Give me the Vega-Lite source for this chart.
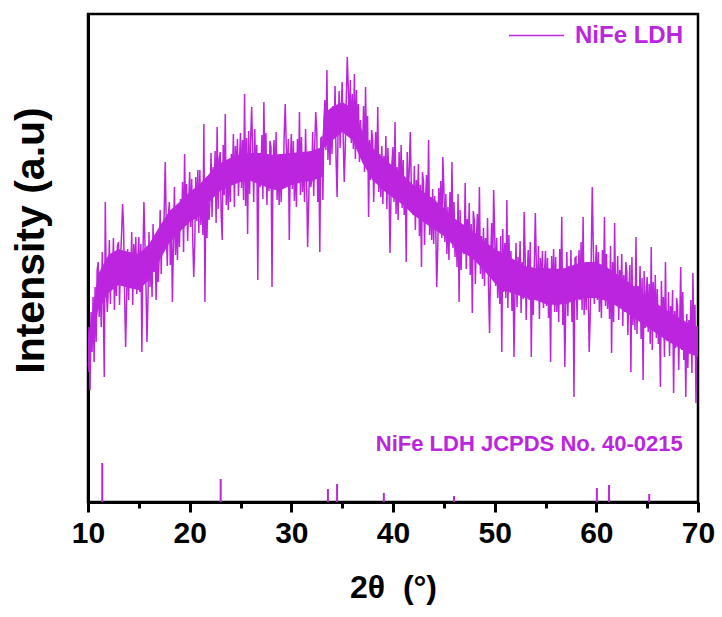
{
"$schema": "https://vega.github.io/schema/vega-lite/v6.json",
"width": 610,
"height": 488,
"autosize": {"type": "none"},
"padding": {"left": 88, "top": 14, "right": 24, "bottom": 115},
"background": "white",
"config": {"view": {"stroke": "black", "strokeWidth": 2.5}, "font": "Liberation Sans"},
"datasets": {
"xrd": [
{"x":10.0,"y":130},{"x":10.1,"y":175},{"x":10.2,"y":112},{"x":10.3,"y":190},{"x":10.4,"y":150},{"x":10.5,"y":205},{"x":10.6,"y":140},{"x":10.7,"y":215},{"x":10.8,"y":160},{"x":10.9,"y":232},
{"x":11.0,"y":240},{"x":11.1,"y":185},{"x":11.2,"y":222},{"x":11.3,"y":175},{"x":11.4,"y":250},{"x":11.5,"y":198},{"x":11.6,"y":125},{"x":11.7,"y":300},{"x":11.8,"y":215},{"x":11.9,"y":190},
{"x":12.0,"y":213},{"x":12.1,"y":262},{"x":12.2,"y":198},{"x":12.3,"y":248},{"x":12.4,"y":220},{"x":12.5,"y":264},{"x":12.6,"y":192},{"x":12.7,"y":243},{"x":12.8,"y":206},{"x":12.9,"y":256},
{"x":13.0,"y":260},{"x":13.1,"y":197},{"x":13.2,"y":243},{"x":13.3,"y":267},{"x":13.4,"y":298},{"x":13.5,"y":275},{"x":13.6,"y":207},{"x":13.7,"y":155},{"x":13.8,"y":202},{"x":13.9,"y":253},
{"x":14.0,"y":202},{"x":14.1,"y":250},{"x":14.2,"y":220},{"x":14.3,"y":270},{"x":14.4,"y":197},{"x":14.5,"y":258},{"x":14.6,"y":227},{"x":14.7,"y":265},{"x":14.8,"y":208},{"x":14.9,"y":244},
{"x":15.0,"y":265},{"x":15.1,"y":210},{"x":15.2,"y":258},{"x":15.3,"y":150},{"x":15.4,"y":245},{"x":15.5,"y":300},{"x":15.6,"y":260},{"x":15.7,"y":216},{"x":15.8,"y":160},{"x":15.9,"y":204},
{"x":16.0,"y":270},{"x":16.1,"y":215},{"x":16.2,"y":252},{"x":16.3,"y":205},{"x":16.4,"y":278},{"x":16.5,"y":230},{"x":16.6,"y":262},{"x":16.7,"y":202},{"x":16.8,"y":245},{"x":16.9,"y":220},
{"x":17.0,"y":243},{"x":17.1,"y":292},{"x":17.2,"y":228},{"x":17.3,"y":278},{"x":17.4,"y":250},{"x":17.5,"y":294},{"x":17.6,"y":340},{"x":17.7,"y":273},{"x":17.8,"y":236},{"x":17.9,"y":286},
{"x":18.0,"y":300},{"x":18.1,"y":237},{"x":18.2,"y":283},{"x":18.3,"y":200},{"x":18.4,"y":257},{"x":18.5,"y":315},{"x":18.6,"y":247},{"x":18.7,"y":285},{"x":18.8,"y":242},{"x":18.9,"y":293},
{"x":19.0,"y":255},{"x":19.1,"y":303},{"x":19.2,"y":273},{"x":19.3,"y":320},{"x":19.4,"y":250},{"x":19.5,"y":348},{"x":19.6,"y":280},{"x":19.7,"y":318},{"x":19.8,"y":261},{"x":19.9,"y":297},
{"x":20.0,"y":330},{"x":20.1,"y":275},{"x":20.2,"y":323},{"x":20.3,"y":263},{"x":20.4,"y":225},{"x":20.5,"y":257},{"x":20.6,"y":325},{"x":20.7,"y":281},{"x":20.8,"y":332},{"x":20.9,"y":269},
{"x":21.0,"y":332},{"x":21.1,"y":277},{"x":21.2,"y":314},{"x":21.3,"y":267},{"x":21.4,"y":378},{"x":21.5,"y":200},{"x":21.6,"y":324},{"x":21.7,"y":264},{"x":21.8,"y":307},{"x":21.9,"y":282},
{"x":22.0,"y":300},{"x":22.1,"y":349},{"x":22.2,"y":285},{"x":22.3,"y":335},{"x":22.4,"y":307},{"x":22.5,"y":351},{"x":22.6,"y":279},{"x":22.7,"y":375},{"x":22.8,"y":293},{"x":22.9,"y":343},
{"x":23.0,"y":350},{"x":23.1,"y":287},{"x":23.2,"y":262},{"x":23.3,"y":357},{"x":23.4,"y":307},{"x":23.5,"y":388},{"x":23.6,"y":297},{"x":23.7,"y":335},{"x":23.8,"y":292},{"x":23.9,"y":343},
{"x":24.0,"y":300},{"x":24.1,"y":348},{"x":24.2,"y":318},{"x":24.3,"y":368},{"x":24.4,"y":295},{"x":24.5,"y":356},{"x":24.6,"y":325},{"x":24.7,"y":363},{"x":24.8,"y":306},{"x":24.9,"y":342},
{"x":25.0,"y":369},{"x":25.1,"y":314},{"x":25.2,"y":362},{"x":25.3,"y":302},{"x":25.4,"y":408},{"x":25.5,"y":296},{"x":25.6,"y":364},{"x":25.7,"y":268},{"x":25.8,"y":371},{"x":25.9,"y":308},
{"x":26.0,"y":365},{"x":26.1,"y":395},{"x":26.2,"y":347},{"x":26.3,"y":300},{"x":26.4,"y":373},{"x":26.5,"y":325},{"x":26.6,"y":357},{"x":26.7,"y":222},{"x":26.8,"y":340},{"x":26.9,"y":315},
{"x":27.0,"y":318},{"x":27.1,"y":367},{"x":27.2,"y":303},{"x":27.3,"y":400},{"x":27.4,"y":325},{"x":27.5,"y":369},{"x":27.6,"y":297},{"x":27.7,"y":348},{"x":27.8,"y":311},{"x":27.9,"y":361},
{"x":28.0,"y":355},{"x":28.1,"y":215},{"x":28.2,"y":338},{"x":28.3,"y":362},{"x":28.4,"y":312},{"x":28.5,"y":370},{"x":28.6,"y":302},{"x":28.7,"y":340},{"x":28.8,"y":297},{"x":28.9,"y":348},
{"x":29.0,"y":300},{"x":29.1,"y":348},{"x":29.2,"y":318},{"x":29.3,"y":368},{"x":29.4,"y":398},{"x":29.5,"y":356},{"x":29.6,"y":325},{"x":29.7,"y":363},{"x":29.8,"y":262},{"x":29.9,"y":342},
{"x":30.0,"y":368},{"x":30.1,"y":313},{"x":30.2,"y":361},{"x":30.3,"y":301},{"x":30.4,"y":348},{"x":30.5,"y":295},{"x":30.6,"y":363},{"x":30.7,"y":319},{"x":30.8,"y":390},{"x":30.9,"y":307},
{"x":31.0,"y":365},{"x":31.1,"y":310},{"x":31.2,"y":347},{"x":31.3,"y":300},{"x":31.4,"y":373},{"x":31.5,"y":325},{"x":31.6,"y":255},{"x":31.7,"y":297},{"x":31.8,"y":340},{"x":31.9,"y":315},
{"x":32.0,"y":321},{"x":32.1,"y":370},{"x":32.2,"y":306},{"x":32.3,"y":356},{"x":32.4,"y":390},{"x":32.5,"y":372},{"x":32.6,"y":300},{"x":32.7,"y":351},{"x":32.8,"y":250},{"x":32.9,"y":364},
{"x":33.0,"y":365},{"x":33.1,"y":302},{"x":33.2,"y":378},{"x":33.3,"y":402},{"x":33.4,"y":352},{"x":33.5,"y":432},{"x":33.6,"y":342},{"x":33.7,"y":380},{"x":33.8,"y":337},{"x":33.9,"y":390},
{"x":34.0,"y":348},{"x":34.1,"y":396},{"x":34.2,"y":366},{"x":34.3,"y":416},{"x":34.4,"y":343},{"x":34.5,"y":305},{"x":34.6,"y":373},{"x":34.7,"y":411},{"x":34.8,"y":354},{"x":34.9,"y":390},
{"x":35.0,"y":420},{"x":35.1,"y":365},{"x":35.2,"y":320},{"x":35.3,"y":353},{"x":35.4,"y":400},{"x":35.5,"y":445},{"x":35.6,"y":415},{"x":35.7,"y":371},{"x":35.8,"y":422},{"x":35.9,"y":359},
{"x":36.0,"y":408},{"x":36.1,"y":353},{"x":36.2,"y":428},{"x":36.3,"y":343},{"x":36.4,"y":412},{"x":36.5,"y":368},{"x":36.6,"y":398},{"x":36.7,"y":340},{"x":36.8,"y":382},{"x":36.9,"y":355},
{"x":37.0,"y":350},{"x":37.1,"y":396},{"x":37.2,"y":330},{"x":37.3,"y":415},{"x":37.4,"y":345},{"x":37.5,"y":386},{"x":37.6,"y":285},{"x":37.7,"y":362},{"x":37.8,"y":322},{"x":37.9,"y":372},
{"x":38.0,"y":363},{"x":38.1,"y":300},{"x":38.2,"y":346},{"x":38.3,"y":370},{"x":38.4,"y":320},{"x":38.5,"y":395},{"x":38.6,"y":310},{"x":38.7,"y":348},{"x":38.8,"y":305},{"x":38.9,"y":356},
{"x":39.0,"y":298},{"x":39.1,"y":346},{"x":39.2,"y":316},{"x":39.3,"y":366},{"x":39.4,"y":293},{"x":39.5,"y":354},{"x":39.6,"y":323},{"x":39.7,"y":249},{"x":39.8,"y":304},{"x":39.9,"y":340},
{"x":40.0,"y":355},{"x":40.1,"y":300},{"x":40.2,"y":380},{"x":40.3,"y":288},{"x":40.4,"y":335},{"x":40.5,"y":282},{"x":40.6,"y":350},{"x":40.7,"y":306},{"x":40.8,"y":357},{"x":40.9,"y":294},
{"x":41.0,"y":342},{"x":41.1,"y":287},{"x":41.2,"y":324},{"x":41.3,"y":240},{"x":41.4,"y":350},{"x":41.5,"y":302},{"x":41.6,"y":334},{"x":41.7,"y":370},{"x":41.8,"y":317},{"x":41.9,"y":292},
{"x":42.0,"y":287},{"x":42.1,"y":336},{"x":42.2,"y":272},{"x":42.3,"y":322},{"x":42.4,"y":294},{"x":42.5,"y":338},{"x":42.6,"y":266},{"x":42.7,"y":317},{"x":42.8,"y":235},{"x":42.9,"y":330},
{"x":43.0,"y":320},{"x":43.1,"y":257},{"x":43.2,"y":303},{"x":43.3,"y":327},{"x":43.4,"y":277},{"x":43.5,"y":362},{"x":43.6,"y":267},{"x":43.7,"y":305},{"x":43.8,"y":262},{"x":43.9,"y":313},
{"x":44.0,"y":258},{"x":44.1,"y":306},{"x":44.2,"y":276},{"x":44.3,"y":215},{"x":44.4,"y":253},{"x":44.5,"y":314},{"x":44.6,"y":283},{"x":44.7,"y":321},{"x":44.8,"y":264},{"x":44.9,"y":345},
{"x":45.0,"y":315},{"x":45.1,"y":260},{"x":45.2,"y":308},{"x":45.3,"y":248},{"x":45.4,"y":295},{"x":45.5,"y":242},{"x":45.6,"y":310},{"x":45.7,"y":266},{"x":45.8,"y":340},{"x":45.9,"y":254},
{"x":46.0,"y":300},{"x":46.1,"y":245},{"x":46.2,"y":282},{"x":46.3,"y":235},{"x":46.4,"y":308},{"x":46.5,"y":200},{"x":46.6,"y":292},{"x":46.7,"y":232},{"x":46.8,"y":275},{"x":46.9,"y":250},
{"x":47.0,"y":248},{"x":47.1,"y":319},{"x":47.2,"y":233},{"x":47.3,"y":283},{"x":47.4,"y":255},{"x":47.5,"y":299},{"x":47.6,"y":227},{"x":47.7,"y":278},{"x":47.8,"y":189},{"x":47.9,"y":291},
{"x":48.0,"y":281},{"x":48.1,"y":218},{"x":48.2,"y":264},{"x":48.3,"y":288},{"x":48.4,"y":238},{"x":48.5,"y":315},{"x":48.6,"y":228},{"x":48.7,"y":266},{"x":48.8,"y":223},{"x":48.9,"y":274},
{"x":49.0,"y":216},{"x":49.1,"y":264},{"x":49.2,"y":234},{"x":49.3,"y":284},{"x":49.4,"y":211},{"x":49.5,"y":169},{"x":49.6,"y":241},{"x":49.7,"y":279},{"x":49.8,"y":222},{"x":49.9,"y":312},
{"x":50.0,"y":271},{"x":50.1,"y":216},{"x":50.2,"y":264},{"x":50.3,"y":204},{"x":50.4,"y":251},{"x":50.5,"y":198},{"x":50.6,"y":266},{"x":50.7,"y":150},{"x":50.8,"y":273},{"x":50.9,"y":210},
{"x":51.0,"y":259},{"x":51.1,"y":204},{"x":51.2,"y":302},{"x":51.3,"y":194},{"x":51.4,"y":267},{"x":51.5,"y":219},{"x":51.6,"y":251},{"x":51.7,"y":191},{"x":51.8,"y":234},{"x":51.9,"y":145},
{"x":52.0,"y":210},{"x":52.1,"y":259},{"x":52.2,"y":195},{"x":52.3,"y":245},{"x":52.4,"y":217},{"x":52.5,"y":261},{"x":52.6,"y":189},{"x":52.7,"y":240},{"x":52.8,"y":203},{"x":52.9,"y":290},
{"x":53.0,"y":245},{"x":53.1,"y":182},{"x":53.2,"y":228},{"x":53.3,"y":252},{"x":53.4,"y":202},{"x":53.5,"y":260},{"x":53.6,"y":145},{"x":53.7,"y":230},{"x":53.8,"y":187},{"x":53.9,"y":238},
{"x":54.0,"y":289},{"x":54.1,"y":236},{"x":54.2,"y":206},{"x":54.3,"y":256},{"x":54.4,"y":183},{"x":54.5,"y":244},{"x":54.6,"y":213},{"x":54.7,"y":251},{"x":54.8,"y":194},{"x":54.9,"y":230},
{"x":55.0,"y":251},{"x":55.1,"y":196},{"x":55.2,"y":244},{"x":55.3,"y":184},{"x":55.4,"y":231},{"x":55.5,"y":140},{"x":55.6,"y":246},{"x":55.7,"y":202},{"x":55.8,"y":253},{"x":55.9,"y":190},
{"x":56.0,"y":245},{"x":56.1,"y":190},{"x":56.2,"y":227},{"x":56.3,"y":180},{"x":56.4,"y":253},{"x":56.5,"y":205},{"x":56.6,"y":285},{"x":56.7,"y":177},{"x":56.8,"y":220},{"x":56.9,"y":135},
{"x":57.0,"y":201},{"x":57.1,"y":250},{"x":57.2,"y":186},{"x":57.3,"y":236},{"x":57.4,"y":208},{"x":57.5,"y":252},{"x":57.6,"y":180},{"x":57.7,"y":231},{"x":57.8,"y":105},{"x":57.9,"y":244},
{"x":58.0,"y":245},{"x":58.1,"y":182},{"x":58.2,"y":228},{"x":58.3,"y":252},{"x":58.4,"y":202},{"x":58.5,"y":260},{"x":58.6,"y":192},{"x":58.7,"y":285},{"x":58.8,"y":187},{"x":58.9,"y":238},
{"x":59.0,"y":192},{"x":59.1,"y":240},{"x":59.2,"y":210},{"x":59.3,"y":150},{"x":59.4,"y":187},{"x":59.5,"y":248},{"x":59.6,"y":315},{"x":59.7,"y":255},{"x":59.8,"y":198},{"x":59.9,"y":234},
{"x":60.0,"y":257},{"x":60.1,"y":202},{"x":60.2,"y":250},{"x":60.3,"y":190},{"x":60.4,"y":237},{"x":60.5,"y":184},{"x":60.6,"y":252},{"x":60.7,"y":208},{"x":60.8,"y":285},{"x":60.9,"y":196},
{"x":61.0,"y":248},{"x":61.1,"y":193},{"x":61.2,"y":230},{"x":61.3,"y":183},{"x":61.4,"y":256},{"x":61.5,"y":149},{"x":61.6,"y":240},{"x":61.7,"y":180},{"x":61.8,"y":279},{"x":61.9,"y":198},
{"x":62.0,"y":197},{"x":62.1,"y":246},{"x":62.2,"y":182},{"x":62.3,"y":232},{"x":62.4,"y":204},{"x":62.5,"y":248},{"x":62.6,"y":176},{"x":62.7,"y":227},{"x":62.8,"y":190},{"x":62.9,"y":240},
{"x":63.0,"y":230},{"x":63.1,"y":167},{"x":63.2,"y":213},{"x":63.3,"y":237},{"x":63.4,"y":130},{"x":63.5,"y":245},{"x":63.6,"y":177},{"x":63.7,"y":215},{"x":63.8,"y":172},{"x":63.9,"y":265},
{"x":64.0,"y":168},{"x":64.1,"y":216},{"x":64.2,"y":186},{"x":64.3,"y":236},{"x":64.4,"y":163},{"x":64.5,"y":224},{"x":64.6,"y":122},{"x":64.7,"y":231},{"x":64.8,"y":174},{"x":64.9,"y":210},
{"x":65.0,"y":225},{"x":65.1,"y":170},{"x":65.2,"y":218},{"x":65.3,"y":158},{"x":65.4,"y":255},{"x":65.5,"y":152},{"x":65.6,"y":220},{"x":65.7,"y":176},{"x":65.8,"y":227},{"x":65.9,"y":164},
{"x":66.0,"y":213},{"x":66.1,"y":158},{"x":66.2,"y":195},{"x":66.3,"y":115},{"x":66.4,"y":221},{"x":66.5,"y":173},{"x":66.6,"y":205},{"x":66.7,"y":145},{"x":66.8,"y":240},{"x":66.9,"y":163},
{"x":67.0,"y":161},{"x":67.1,"y":210},{"x":67.2,"y":146},{"x":67.3,"y":196},{"x":67.4,"y":168},{"x":67.5,"y":212},{"x":67.6,"y":109},{"x":67.7,"y":191},{"x":67.8,"y":154},{"x":67.9,"y":204},
{"x":68.0,"y":195},{"x":68.1,"y":132},{"x":68.2,"y":178},{"x":68.3,"y":235},{"x":68.4,"y":152},{"x":68.5,"y":210},{"x":68.6,"y":142},{"x":68.7,"y":180},{"x":68.8,"y":105},{"x":68.9,"y":188},
{"x":69.0,"y":134},{"x":69.1,"y":182},{"x":69.2,"y":152},{"x":69.3,"y":202},{"x":69.4,"y":129},{"x":69.5,"y":229},{"x":69.6,"y":159},{"x":69.7,"y":197},{"x":69.8,"y":99},{"x":69.9,"y":176},
{"x":70.0,"y":160}
],
"core": [
{"x":10,"lo":137,"hi":163},{"x":11,"lo":192,"hi":228},{"x":12,"lo":209,"hi":247},{"x":13,"lo":217,"hi":253},{"x":14,"lo":214,"hi":250},
{"x":15,"lo":212,"hi":248},{"x":16,"lo":222,"hi":258},{"x":17,"lo":241,"hi":275},{"x":18,"lo":259,"hi":291},{"x":19,"lo":270,"hi":300},
{"x":20,"lo":280,"hi":310},{"x":21,"lo":286,"hi":318},{"x":22,"lo":301,"hi":329},{"x":23,"lo":311,"hi":339},{"x":24,"lo":316,"hi":344},
{"x":25,"lo":320,"hi":348},{"x":26,"lo":321,"hi":349},{"x":27,"lo":317,"hi":349},{"x":28,"lo":313,"hi":347},{"x":29,"lo":312,"hi":348},
{"x":30,"lo":317,"hi":349},{"x":31,"lo":320,"hi":350},{"x":32,"lo":321,"hi":351},{"x":33,"lo":325,"hi":355},{"x":33.2,"lo":354,"hi":388},
{"x":34,"lo":361,"hi":395},{"x":35,"lo":370,"hi":400},{"x":36,"lo":362,"hi":394},{"x":37,"lo":339,"hi":371},{"x":38,"lo":322,"hi":354},
{"x":39,"lo":312,"hi":344},{"x":40,"lo":304,"hi":336},{"x":41,"lo":297,"hi":327},{"x":42,"lo":287,"hi":317},{"x":43,"lo":280,"hi":310},
{"x":44,"lo":273,"hi":303},{"x":45,"lo":266,"hi":294},{"x":46,"lo":256,"hi":284},{"x":47,"lo":249,"hi":277},{"x":48,"lo":242,"hi":270},
{"x":49,"lo":231,"hi":261},{"x":50,"lo":219,"hi":253},{"x":51,"lo":211,"hi":247},{"x":52,"lo":208,"hi":242},{"x":53,"lo":204,"hi":236},
{"x":54,"lo":202,"hi":234},{"x":55,"lo":198,"hi":234},{"x":56,"lo":197,"hi":233},{"x":57,"lo":198,"hi":234},{"x":58,"lo":202,"hi":238},
{"x":59,"lo":204,"hi":240},{"x":60,"lo":204,"hi":240},{"x":61,"lo":201,"hi":235},{"x":62,"lo":196,"hi":228},{"x":63,"lo":189,"hi":221},
{"x":64,"lo":182,"hi":214},{"x":65,"lo":175,"hi":205},{"x":66,"lo":168,"hi":198},{"x":67,"lo":161,"hi":191},{"x":68,"lo":155,"hi":185},
{"x":69,"lo":149,"hi":179},{"x":70,"lo":145,"hi":175}
],
"ref": [
{"p":11.4,"h":39},{"p":23.05,"h":23},{"p":33.6,"h":13},{"p":34.5,"h":18},{"p":39.1,"h":9},{"p":46.0,"h":6},{"p":60.05,"h":14},{"p":61.25,"h":17},{"p":65.2,"h":8}
],
"note": [{"label": "NiFe LDH JCPDS No. 40-0215"}]
},
"layer": [
{
"data": {"name": "core"},
"mark": {"type": "area", "color": "#bc25de", "opacity": 1, "clip": true},
"encoding": {
"x": {"field": "x", "type": "quantitative"},
"y": {"field": "lo", "type": "quantitative"},
"y2": {"field": "hi"}
}
},
{
"data": {"name": "xrd"},
"mark": {"type": "line", "strokeWidth": 1.5, "clip": true},
"encoding": {
"x": {"field": "x", "type": "quantitative", "scale": {"domain": [10, 70], "nice": false, "zero": false},
"axis": {"values": [10,15,20,25,30,35,40,45,50,55,60,65,70],
"labelExpr": "datum.value % 10 === 0 ? datum.label : ''",
"tickSize": {"condition": {"test": "datum.value % 10 === 0", "value": 10}, "value": 6},
"tickWidth": 3, "tickColor": "black", "domainColor": "black", "domainWidth": 3,
"labelFontSize": 30, "labelFontWeight": "bold", "labelColor": "black", "labelPadding": 6,
"labelFlush": false, "labelOverlap": false, "grid": false,
"title": "2θ \u00a0(°)", "titleFontSize": 32, "titleFontWeight": "bold", "titleColor": "black", "titlePadding": 24}},
"y": {"field": "y", "type": "quantitative", "scale": {"domain": [0, 488], "nice": false},
"axis": {"ticks": false, "labels": false, "grid": false, "domainColor": "black", "domainWidth": 3,
"title": "Intensity (a.u)", "titleFontSize": 41, "titleFontWeight": "bold", "titleColor": "black", "titlePadding": 36, "titleY": 226}},
"color": {"datum": "NiFe LDH", "type": "nominal", "scale": {"domain": ["NiFe LDH"], "range": ["#bc25de"]},
"legend": {"orient": "none", "legendX": 420, "legendY": -7, "title": null, "symbolType": "stroke", "symbolSize": 3025, "symbolStrokeWidth": 1.5,
"labelFontSize": 24, "labelFontWeight": "bold", "labelColor": "#bc25de", "labelOffset": 10, "padding": 0}}
}
},
{
"data": {"name": "ref"},
"mark": {"type": "rule", "strokeWidth": 2, "color": "#bc25de"},
"encoding": {
"x": {"field": "p", "type": "quantitative"},
"y": {"field": "h", "type": "quantitative"},
"y2": {"datum": 0}
}
},
{
"data": {"name": "note"},
"mark": {"type": "text", "fontSize": 22, "fontWeight": "bold", "color": "#bc25de", "align": "center", "baseline": "middle"},
"encoding": {
"x": {"datum": 53.4, "type": "quantitative"},
"y": {"datum": 58, "type": "quantitative"},
"text": {"field": "label"}
}
}
]
}
